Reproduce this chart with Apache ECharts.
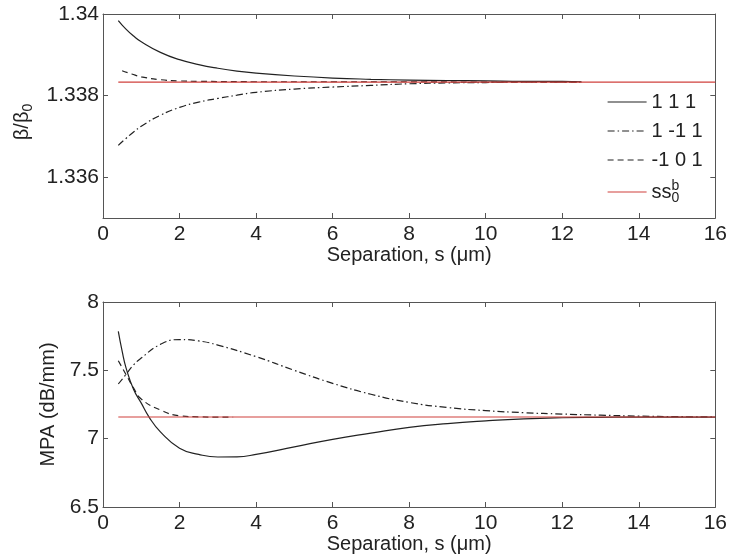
<!DOCTYPE html>
<html>
<head>
<meta charset="utf-8">
<script src="https://cdn.jsdelivr.net/npm/echarts@6/dist/echarts.min.js"></script>
<style>
  html, body { margin: 0; padding: 0; background: #fff; }
  #chart { width: 730px; height: 560px; }
</style>
</head>
<body>
<div id="chart"></div>
<script>
// series names (legend)
var names = ['1 1 1', '1 -1 1', '-1 0 1', 'ss0b'];

// top panel: beta/beta0 vs separation
var topX111 = [0.4, 0.6, 0.8, 1, 1.5, 2, 2.5, 3, 3.5, 4, 5, 6, 7, 8, 9, 10, 11, 12, 12.5];
var topY111 = [1.33984, 1.33963, 1.33946, 1.33932, 1.33906, 1.33888, 1.33876, 1.33867, 1.33860, 1.33855, 1.33848, 1.33843, 1.33840, 1.33838, 1.33837, 1.33836, 1.33835, 1.33835, 1.33834];
var topX1m11 = [0.4, 0.6, 0.8, 1, 1.5, 2, 2.5, 3, 3.5, 4, 5, 6, 7, 8, 9, 10, 11, 12, 12.5];
var topY1m11 = [1.33678, 1.33695, 1.33711, 1.33725, 1.33752, 1.33771, 1.33784, 1.33793, 1.33801, 1.33808, 1.33816, 1.33821, 1.33825, 1.33829, 1.33831, 1.33832, 1.33833, 1.33833, 1.33833];
var topXm101 = [0.5, 0.75, 1, 1.5, 2, 2.5, 4, 6, 8, 10, 12.5];
var topYm101 = [1.33861, 1.33853, 1.33846, 1.33839, 1.33836, 1.33835, 1.33834, 1.33834, 1.33834, 1.33833, 1.33833];
var topXss = [0.4, 16];
var topYss = [1.33833, 1.33833];

// bottom panel: MPA vs separation
var botX111 = [0.4, 0.5, 0.6, 0.8, 1, 1.2, 1.5, 2, 2.5, 3, 3.5, 4, 5, 6, 7, 8, 9, 10, 11, 12, 13, 14, 15, 16];
var botY111 = [7.785, 7.64, 7.52, 7.36, 7.26, 7.16, 7.05, 6.93, 6.885, 6.866, 6.867, 6.885, 6.94, 6.995, 7.04, 7.082, 7.11, 7.13, 7.145, 7.153, 7.156, 7.158, 7.158, 7.158];
var botX1m11 = [0.4, 0.6, 0.8, 1, 1.5, 2, 2.5, 3, 4, 5, 6, 7, 8, 9, 10, 11, 12, 13, 14, 15, 16];
var botY1m11 = [7.40, 7.47, 7.54, 7.59, 7.69, 7.725, 7.715, 7.685, 7.60, 7.50, 7.405, 7.325, 7.265, 7.228, 7.205, 7.19, 7.18, 7.172, 7.165, 7.161, 7.159];
var botXm101 = [0.4, 0.6, 0.8, 1, 1.5, 2, 2.5, 3, 3.4];
var botYm101 = [7.57, 7.47, 7.37, 7.29, 7.21, 7.168, 7.16, 7.158, 7.158];
var botXss = [0.4, 16];
var botYss = [7.1585, 7.1585];

var xTicks = [0, 2, 4, 6, 8, 10, 12, 14, 16];
var topYTicks = [1.336, 1.338, 1.34];
var botYTicks = [6.5, 7, 7.5, 8];

var font = 'Liberation Sans, Arial, sans-serif';
var ink = '#222';
var redLine = '#d0403c';

function pairs(xs, ys) {
  return xs.map(function (x, i) { return [x, ys[i]]; });
}

function xAx(grid, pos, showLabel, name) {
  return {
    type: 'value', gridIndex: grid, position: pos,
    min: xTicks[0], max: xTicks[xTicks.length - 1], interval: 2,
    name: name || '', nameLocation: 'middle', nameGap: 26,
    nameTextStyle: { fontFamily: font, fontSize: 20, color: ink },
    axisLine: { show: true, onZero: false, lineStyle: { color: '#555', width: 1 } },
    axisTick: { show: true, inside: true, length: 5, lineStyle: { color: '#555' } },
    axisLabel: { show: showLabel, fontFamily: font, fontSize: 21, color: ink, margin: 6 },
    splitLine: { show: false }
  };
}

function yAx(grid, pos, min, max, ticks, showLabel, name, gap, pad) {
  return {
    type: 'value', gridIndex: grid, position: pos, min: min, max: max,
    name: name || '', nameLocation: 'middle', nameGap: gap || 0,
    nameTextStyle: {
      fontFamily: font, fontSize: 20, color: ink, padding: pad || 0,
      rich: {
        n: { fontFamily: font, fontSize: 20, color: ink },
        s: { fontFamily: font, fontSize: 14, color: ink, verticalAlign: 'bottom', lineHeight: 26 }
      }
    },
    axisLine: { show: true, onZero: false, lineStyle: { color: '#555', width: 1 } },
    axisTick: { show: true, inside: true, length: 5, lineStyle: { color: '#555' }, customValues: ticks },
    axisLabel: { show: showLabel, fontFamily: font, fontSize: 21, color: ink, margin: 4, customValues: ticks },
    splitLine: { show: false }
  };
}

function line(name, xi, yi, data, dash, color, z) {
  return {
    name: name, type: 'line', xAxisIndex: xi, yAxisIndex: yi,
    data: data, smooth: 0.5, symbol: 'none', z: z || 2,
    lineStyle: { color: color || ink, width: 1.2, type: dash || 'solid' },
    itemStyle: { color: color || ink }
  };
}

var dashDot = [7, 3, 1.5, 3];
var dashed = [6, 4];

var chart = echarts.init(document.getElementById('chart'));
chart.setOption({
  animation: false,
  backgroundColor: '#fff',
  grid: [
    { left: 103, top: 14, width: 615, height: 204 },
    { left: 103, top: 302, width: 615, height: 205 }
  ],
  xAxis: [
    xAx(0, 'bottom', true, 'Separation, s (\u03bcm)'),
    xAx(0, 'top', false),
    xAx(1, 'bottom', true, 'Separation, s (\u03bcm)'),
    xAx(1, 'top', false)
  ],
  yAxis: [
    yAx(0, 'left', 1.335, 1.34, topYTicks, true, '{n|\u03b2/\u03b2}{s|0}', 57, [0, 12, 0, 0]),
    yAx(0, 'right', 1.335, 1.34, topYTicks, false),
    yAx(1, 'left', 6.5, 8, botYTicks, true, 'MPA (dB/mm)', 38),
    yAx(1, 'right', 6.5, 8, botYTicks, false)
  ],
  legend: {
    data: names, orient: 'vertical', left: 607, top: 92, padding: 0,
    itemWidth: 39, itemHeight: 14, itemGap: 9,
    itemStyle: { opacity: 0 },
    lineStyle: { width: 1.2 },
    textStyle: {
      fontFamily: font, fontSize: 20, color: ink,
      rich: {
        a: { fontFamily: font, fontSize: 20, color: ink, lineHeight: 26 },
        p: { fontFamily: font, fontSize: 14, color: ink, verticalAlign: 'top', width: 0, lineHeight: 14 },
        b: { fontFamily: font, fontSize: 14, color: ink, verticalAlign: 'bottom', lineHeight: 14 }
      }
    },
    formatter: function (n) {
      return n === 'ss0b' ? '{a|ss}{p|b}{b|0}' : n;
    }
  },
  series: [
    line(names[0], 0, 0, pairs(topX111, topY111)),
    line(names[1], 0, 0, pairs(topX1m11, topY1m11), dashDot),
    line(names[2], 0, 0, pairs(topXm101, topYm101), dashed),
    line(names[3], 0, 0, pairs(topXss, topYss), 'solid', redLine, 3),
    line(names[0], 2, 2, pairs(botX111, botY111)),
    line(names[1], 2, 2, pairs(botX1m11, botY1m11), dashDot),
    line(names[2], 2, 2, pairs(botXm101, botYm101), dashed),
    line(names[3], 2, 2, pairs(botXss, botYss), 'solid', redLine, 3)
  ]
});
</script>
</body>
</html>
